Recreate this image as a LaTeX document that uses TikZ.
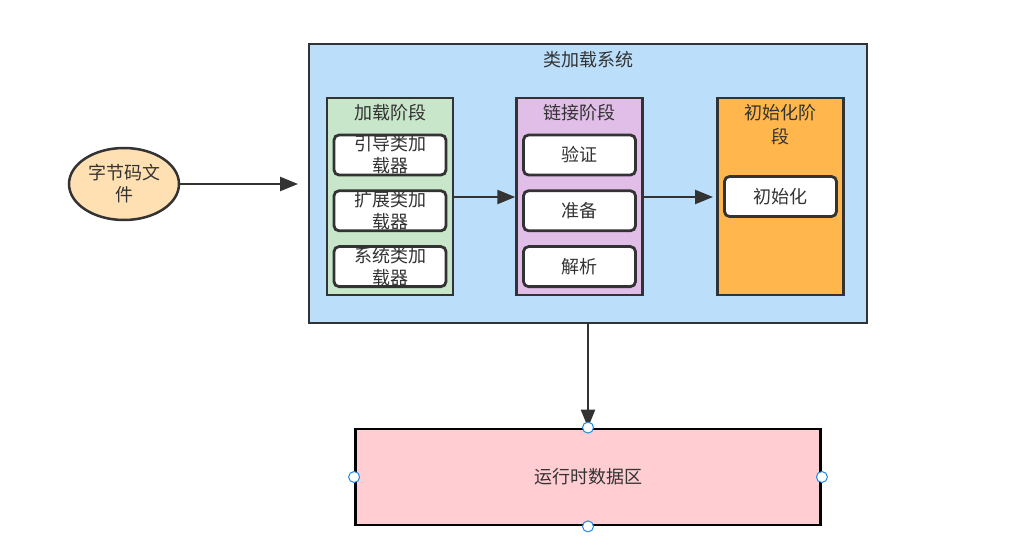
\documentclass[tikz,border=0pt]{standalone}
\usepackage{fontspec}
\setmainfont{Noto Sans CJK SC}
\usepackage{xcolor}
\usetikzlibrary{shapes.geometric, arrows.meta, positioning}

\definecolor{edgegray}{HTML}{333333}
\definecolor{textgray}{HTML}{333333}
\definecolor{sysblue}{HTML}{BBDEFB}
\definecolor{loadgreen}{HTML}{C8E6C9}
\definecolor{linkpurple}{HTML}{E1BEE7}
\definecolor{initorange}{HTML}{FFB74D}
\definecolor{filepeach}{HTML}{FFE0B2}
\definecolor{runpink}{HTML}{FFCDD2}
\definecolor{handleblue}{HTML}{1E88E5}

\begin{document}
\begin{tikzpicture}[
    x=1pt, y=-1pt,
    every node/.style={font=\fontsize{18}{22}\selectfont, text=textgray},
    system/.style={rectangle, draw=edgegray, line width=2.5pt, fill=sysblue, minimum width=558pt, minimum height=279pt},
    stage/.style={rectangle, draw=edgegray, line width=2.5pt, minimum width=126pt, minimum height=197pt},
    title/.style={align=center, inner sep=0pt},
    step box/.style={rectangle, rounded corners=5pt, draw=edgegray, line width=2.8pt, fill=white, minimum width=112pt, minimum height=40pt, align=center, inner sep=0pt},
    rel/.style={-{Triangle[length=18pt, width=14pt]}, line width=2.5pt, draw=edgegray},
    handle/.style={circle, draw=handleblue, fill=white, line width=1pt, minimum size=11pt, inner sep=0pt}
]
\useasboundingbox (0,0) rectangle (1027,553);

% class loading system
\node[system] (sys) at (588,183.5) {};
\node[title, below=8pt of sys.north] (sys_title) {类加载系统};

% loading stage
\node[stage, fill=loadgreen] (load) at (390,196.5) {};
\node[title, below=7pt of load.north] (load_title) {加载阶段};
\node[step box] (boot) at (390,155) {引导类加\\载器};
\node[step box, below=13pt of boot] (ext) {扩展类加\\载器};
\node[step box, below=13pt of ext] (app) {系统类加\\载器};

% linking stage
\node[stage, fill=linkpurple] (link) at (579.5,196.5) {};
\node[title, below=7pt of link.north] (link_title) {链接阶段};
\node[step box] (verify) at (579.5,155) {验证};
\node[step box, below=13pt of verify] (prepare) {准备};
\node[step box, below=13pt of prepare] (resolve) {解析};

% initialization stage
\node[stage, fill=initorange] (init) at (780.5,196.5) {};
\node[title, below=7pt of init.north, font=\fontsize{18}{24}\selectfont] (init_title) {初始化阶\\段};
\node[step box] (initialize) at (780.5,196.5) {初始化};

% bytecode file
\node[ellipse, draw=edgegray, line width=2.5pt, fill=filepeach, minimum width=110pt, minimum height=72pt, align=center, inner sep=0pt] (bytecode) at (124,184) {字节码文\\件};

% runtime data area
\node[rectangle, draw=black, line width=2.8pt, fill=runpink, minimum width=465pt, minimum height=96pt] (runtime) at (588,477) {运行时数据区};

% Relationships
\coordinate (sys_in) at (298,184);
\coordinate (init_in) at (713,197);
\draw[rel] (bytecode.east) -- (sys_in);
\draw[rel] (load.east |- 0,197) -- (link.west |- 0,197);
\draw[rel] (link.east |- 0,197) -- (init_in);
\draw[rel] (sys.south) -- (runtime.north);

% selection handles
\foreach \anchor in {north, south, east, west}
    \node[handle] at (runtime.\anchor) {};

\end{tikzpicture}
\end{document}
